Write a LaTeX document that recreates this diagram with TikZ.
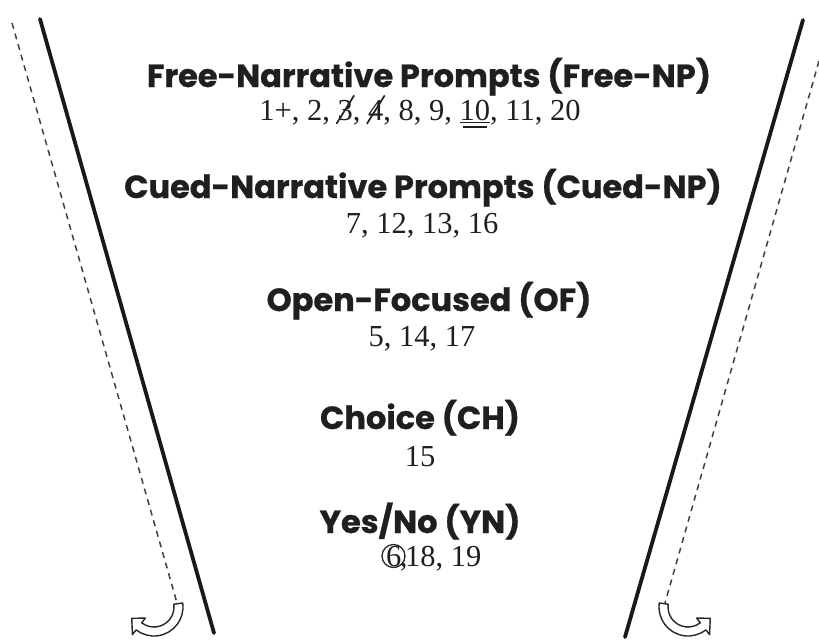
\documentclass[tikz,border=0pt]{standalone}
\usepackage{fontspec}
\usepackage{graphicx}
\setmainfont{Liberation Serif}
\newfontfamily\titlefont{Poppins}[BoldFeatures={FakeBold=0.7}]
\newcommand\strk[1]{\ooalign{#1\cr\hidewidth\raisebox{-0.14em}{\rotatebox{58}{\rule{1.1em}{0.055em}}}\hidewidth\cr}}
\newcommand\dul[1]{\leavevmode\setbox0\hbox{#1}%
  \rlap{\rule[-0.1em]{\wd0}{0.05em}}%
  \rlap{\hspace*{\dimexpr0.12\wd0\relax}\rule[-0.25em]{\dimexpr0.76\wd0\relax}{0.055em}}%
  \box0}
\begin{document}
\begin{tikzpicture}[x=1pt,y=-1pt,
  ttl/.style={font=\titlefont\bfseries\fontsize{32}{36}\selectfont, text=black!88, inner sep=0pt, anchor=base},
  nums/.style={font=\fontsize{30.5}{34}\selectfont, text=black!88, inner sep=0pt, anchor=base},
  guide/.style={line width=3.8pt, black!90, line cap=round},
  fold/.style={line width=1.5pt, black!75, dash pattern=on 6pt off 5pt},
  turn/.style={draw=black!85, fill=white, line width=1.4pt, line join=round}]
\useasboundingbox (0,0) rectangle (819,640);

% guide lines
\coordinate (la) at (40,19);
\coordinate (lb) at (214,633);
\coordinate (da) at (12,23);
\coordinate (db) at (177,603);
\coordinate (ra) at (803,20);
\coordinate (rb) at (625,637);
\coordinate (ea) at (819,61);
\coordinate (eb) at (665,603);
\draw[guide] (la) -- (lb);
\draw[guide] (ra) -- (rb);
\draw[fold] (da) -- (db);
\draw[fold] (ea) -- (eb);

% turn arrows
\coordinate (lc) at (154,607);
\coordinate (rc) at (688,607);
\draw[turn] ([shift={(lc)}]-8:29) arc[start angle=-8,end angle=128,radius=29]
  -- ([shift={(lc)}]128:35) -- ([shift={(lc)}]153:25) -- ([shift={(lc)}]128:14)
  -- ([shift={(lc)}]128:20) arc[start angle=128,end angle=-8,radius=20] -- cycle;
\draw[turn] ([shift={(rc)}]188:29) arc[start angle=188,end angle=52,radius=29]
  -- ([shift={(rc)}]52:35) -- ([shift={(rc)}]27:25) -- ([shift={(rc)}]52:14)
  -- ([shift={(rc)}]52:20) arc[start angle=52,end angle=188,radius=20] -- cycle;

% texts
\node[ttl] (t1) at (429,87) {Free-Narrative Prompts (Free-NP)};
\node[nums] (n1) at (420,120) {1+, 2, \strk{3}, \strk{4}, 8, 9, \dul{10}, 11, 20};
\node[ttl] (t2) at (423,198) {Cued-Narrative Prompts (Cued-NP)};
\node[nums] (n2) at (422,233) {7, 12, 13, 16};
\node[ttl] (t3) at (429,311) {Open-Focused (OF)};
\node[nums] (n3) at (422,346) {5, 14, 17};
\node[ttl] (t4) at (420,429) {Choice (CH)};
\node[nums] (n4) at (420,466) {15};
\node[ttl] (t5) at (420,533) {Yes/No (YN)};
\node[nums, anchor=base west] (n5a) at (386,566) {6\kern-1.5pt,};
\node[nums, anchor=base west] (n5b) at (405,566) {18, 19};
\coordinate (ring) at (393.5,556);
\draw[line width=1.3pt, black!85] (ring) circle (11.5);
\end{tikzpicture}
\end{document}
